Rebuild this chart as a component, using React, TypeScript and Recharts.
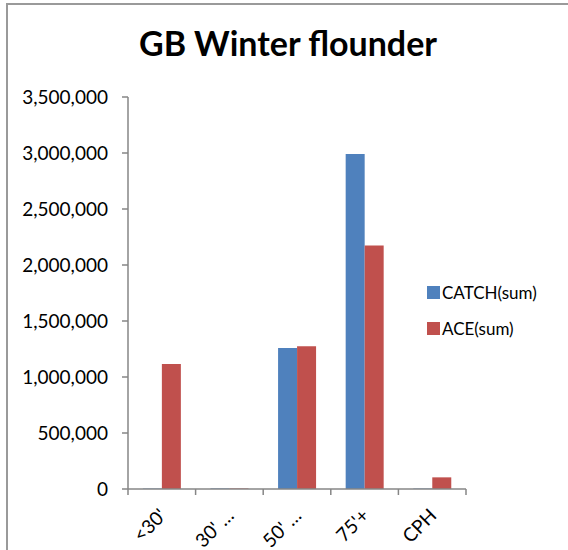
import React from "react";
import { BarChart, Bar, XAxis, YAxis } from "recharts";

const CATEGORIES = ["<30'", "30' …", "50' …", "75'+", "CPH"];
const CATCH_SUM = [4000, 5000, 1260000, 2990000, 4000];
const ACE_SUM = [1115000, 5000, 1275000, 2175000, 104000];
const Y_TICKS = [0, 500000, 1000000, 1500000, 2000000, 2500000, 3000000, 3500000];
const SERIES = [
  { key: "catch", name: "CATCH(sum)", color: "#4F81BD" },
  { key: "ace", name: "ACE(sum)", color: "#C0504D" },
];

const data = CATEGORIES.map((name, i) => ({
  name,
  catch: CATCH_SUM[i],
  ace: ACE_SUM[i],
}));

const FONT = "Lato, 'Open Sans', sans-serif";
const AXIS_COLOR = "#868686";
const PLOT_WIDTH = 568 - 128 - 102;

// label rotated like Excel, plus tick marks on the category boundaries
function CategoryTick(props: any) {
  const { x, y, payload, index } = props;
  const half = payload && payload.offset ? payload.offset : PLOT_WIDTH / CATEGORIES.length / 2;
  const isLast = index === CATEGORIES.length - 1;
  return (
    <g>
      <line x1={x - half} x2={x - half} y1={y} y2={y + 6} stroke={AXIS_COLOR} strokeWidth={1.5} />
      {isLast && <line x1={x + half} x2={x + half} y1={y} y2={y + 6} stroke={AXIS_COLOR} strokeWidth={1.5} />}
      <g transform={`translate(${x},${y + 8})`}>
        <text
          x={0}
          y={0}
          dy={18}
          dx={-10}
          textAnchor="end"
          transform="rotate(-45)"
          fill="#000"
          fontSize={19}
          fontFamily={FONT}
        >
          {payload.value}
        </text>
      </g>
    </g>
  );
}

function LegendBox() {
  return (
    <div style={{ position: "absolute", left: 427, top: 281, fontFamily: FONT, fontSize: 17 }}>
      {SERIES.map((s) => (
        <div key={s.key} style={{ display: "flex", alignItems: "center", height: 22, marginBottom: 14 }}>
          <span style={{ width: 13, height: 13, background: s.color, marginRight: 2, display: "inline-block" }} />
          <span>{s.name}</span>
        </div>
      ))}
    </div>
  );
}

export default function App() {
  return (
    <div style={{ position: "absolute", left: 0, top: 0, width: 568, height: 550, background: "#fff", overflow: "hidden" }}>
      <div
        style={{
          position: "absolute",
          left: 6,
          top: 3,
          width: 600,
          height: 600,
          borderTop: "2px solid #9a9a9a",
          borderLeft: "2px solid #9a9a9a",
        }}
      />
      <div
        style={{
          position: "absolute",
          left: 0,
          width: 576,
          top: 23,
          textAlign: "center",
          fontFamily: FONT,
          fontWeight: 700,
          fontSize: 34,
          lineHeight: 1.2,
          color: "#000",
        }}
      >
        GB Winter flounder
      </div>
      <div style={{ position: "absolute", left: 0, top: 0 }}>
        <BarChart
          width={568}
          height={550}
          data={data}
          margin={{ top: 97, right: 102, left: 0, bottom: 0 }}
          barCategoryGap="22%"
          barGap={0}
        >
          <XAxis
            dataKey="name"
            height={61}
            axisLine={{ stroke: AXIS_COLOR, strokeWidth: 1.5 }}
            tickLine={false}
            tickSize={0}
            tickMargin={0}
            tick={<CategoryTick />}
            interval={0}
          />
          <YAxis
            width={128}
            domain={[0, 3500000]}
            ticks={Y_TICKS}
            interval={0}
            axisLine={{ stroke: AXIS_COLOR, strokeWidth: 1.5 }}
            tickLine={{ stroke: AXIS_COLOR, strokeWidth: 1.5 }}
            tickSize={6}
            tickMargin={14}
            tick={{ fill: "#000", fontSize: 19, fontFamily: FONT }}
            tickFormatter={(v: number) => v.toLocaleString("en-US")}
          />
          {SERIES.map((s) => (
            <Bar key={s.key} dataKey={s.key} name={s.name} fill={s.color} isAnimationActive={false} />
          ))}
        </BarChart>
      </div>
      <LegendBox />
    </div>
  );
}
